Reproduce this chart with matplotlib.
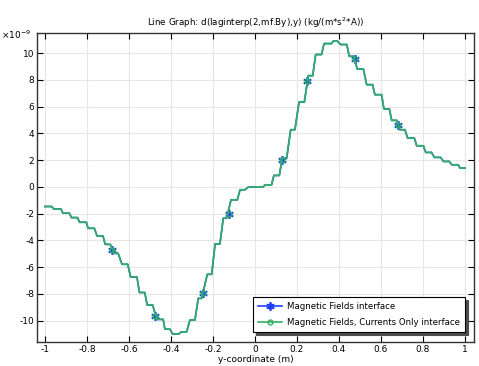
import matplotlib
matplotlib.use("Agg")
import matplotlib.pyplot as plt
from matplotlib.lines import Line2D

plt.rcParams['font.family'] = ['DejaVu Sans']
plt.rcParams['axes.unicode_minus'] = False

# Data (y values in units of 1e-9 kg/(m*s^2*A))
y_coord = [-1.0, -0.967, -0.959, -0.924, -0.914, -0.884, -0.874, -0.845, -0.835, -0.803,
           -0.795, -0.765, -0.752, -0.724, -0.713, -0.689, -0.671, -0.652, -0.633, -0.606,
           -0.592, -0.562, -0.550, -0.525, -0.513, -0.487, -0.468, -0.437, -0.429, -0.405,
           -0.392, -0.365, -0.349, -0.325, -0.310, -0.286, -0.270, -0.254, -0.227, -0.206,
           -0.190, -0.167, -0.151, -0.135, -0.114, -0.084, -0.071, -0.048, -0.032,
           0.0, 0.040, 0.048, 0.079, 0.090, 0.116, 0.130, 0.151, 0.170, 0.190,
           0.210, 0.235, 0.254, 0.275, 0.289, 0.317, 0.329, 0.365, 0.373, 0.392,
           0.408, 0.437, 0.449, 0.470, 0.487, 0.516, 0.532, 0.560, 0.571, 0.603,
           0.614, 0.640, 0.651, 0.675, 0.690, 0.714, 0.727, 0.759, 0.770, 0.802,
           0.813, 0.841, 0.854, 0.884, 0.897, 0.925, 0.937, 0.968, 0.976, 1.0]
dBy_dy = [-1.47, -1.47, -1.65, -1.65, -1.97, -1.97, -2.30, -2.30, -2.65, -2.65,
          -3.10, -3.10, -3.67, -3.67, -4.30, -4.30, -4.97, -4.97, -5.79, -5.79,
          -6.74, -6.74, -7.90, -7.90, -8.84, -8.84, -9.91, -9.91, -10.64, -10.64,
          -11.01, -11.01, -10.84, -10.84, -9.96, -9.96, -8.34, -8.34, -6.54, -6.54,
          -4.27, -4.27, -2.35, -2.35, -0.97, -0.97, -0.22, -0.22, -0.02,
          0.0, 0.0, 0.15, 0.15, 0.85, 0.85, 2.15, 2.15, 4.27, 4.27,
          6.34, 6.34, 8.31, 8.31, 9.89, 9.89, 10.71, 10.71, 10.90, 10.90,
          10.64, 10.64, 9.76, 9.76, 8.81, 8.81, 7.64, 7.64, 6.89, 6.89,
          5.82, 5.82, 4.97, 4.97, 4.27, 4.27, 3.64, 3.64, 3.07, 3.07,
          2.57, 2.57, 2.20, 2.20, 1.90, 1.90, 1.65, 1.65, 1.40, 1.40]

marker_x = [-0.681, -0.476, -0.246, -0.124, 0.127, 0.246, 0.476, 0.683]
marker_y = [-4.72, -9.64, -7.97, -2.05, 2.02, 7.89, 9.56, 4.64]

series_labels = ["Magnetic Fields interface", "Magnetic Fields, Currents Only interface"]
xticks = [-1, -0.8, -0.6, -0.4, -0.2, 0, 0.2, 0.4, 0.6, 0.8, 1]
xtick_labels = ["-1", "-0.8", "-0.6", "-0.4", "-0.2", "0", "0.2", "0.4", "0.6", "0.8", "1"]
yticks = [-10, -8, -6, -4, -2, 0, 2, 4, 6, 8, 10]

blue = '#2040ff'
green = '#30b060'
ast = (6, 2, 0)

fig = plt.figure(figsize=(4.79, 3.66), dpi=100)
ax = fig.add_axes([0.0772, 0.0656, 0.9124, 0.8442])

ax.plot(y_coord, dBy_dy, color=blue, lw=1.2, zorder=2)
ax.plot(marker_x, marker_y, ls='none', marker=ast, ms=6, mec=blue, mew=1.3, zorder=3)
ax.plot(y_coord, dBy_dy, color=green, lw=1.2, zorder=4)
ax.plot(marker_x, marker_y, ls='none', marker='o', ms=3.5, mfc='none', mec=green, mew=1.0, zorder=5)

ax.set_xlim(-1.038, 1.043)
ax.set_ylim(-11.6, 11.5)
ax.set_xticks(xticks)
ax.set_xticklabels(xtick_labels)
ax.set_yticks(yticks)
ax.tick_params(direction='in', top=True, right=True, labelsize=6.5, length=4, width=0.8, pad=2)
ax.grid(True, color='#e6e6e6', lw=0.8)
ax.set_axisbelow(True)
for s in ax.spines.values():
    s.set_linewidth(1.0)
    s.set_color('#333333')

ax.set_title("Line Graph: d(laginterp(2,mf.By),y) (kg/(m*s$^2$*A))", fontsize=6.3, pad=5)
ax.set_xlabel("y-coordinate (m)", fontsize=6.5, labelpad=1)
fig.text(0.002, 0.888, r"$\times$10$^{-9}$", fontsize=6.5, ha='left', va='bottom')

handles = [Line2D([], [], color=blue, marker=ast, ms=6, mew=1.3, lw=1.2),
           Line2D([], [], color=green, marker='o', ms=3.5, mfc='none', mew=1.0, lw=1.2)]
leg = ax.legend(handles, series_labels, loc='lower right', bbox_to_anchor=(0.979, 0.032),
                fontsize=6.2, frameon=True, fancybox=False,
                shadow={'color': '0.3', 'alpha': 1.0}, edgecolor='black',
                handlelength=2.8, borderpad=0.6, labelspacing=0.75, handletextpad=0.5,
                borderaxespad=0.0)
leg.get_frame().set_linewidth(0.8)

fig.savefig("out.png", dpi=100)
